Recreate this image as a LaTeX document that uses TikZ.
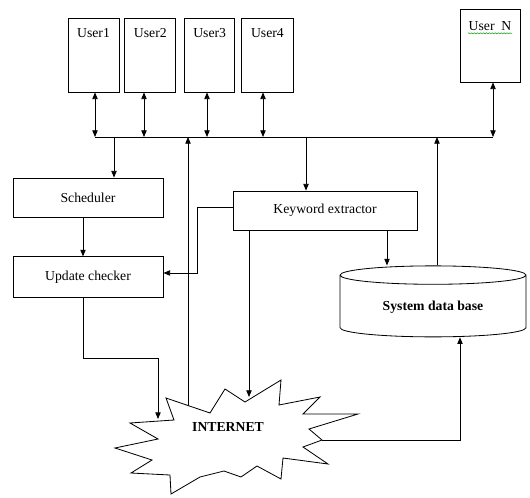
\documentclass[tikz,border=0pt]{standalone}
\usepackage{fontspec}
\setmainfont{Liberation Serif}
\usetikzlibrary{positioning,arrows.meta,calc,shapes.geometric,decorations.pathmorphing}

\begin{document}
\begin{tikzpicture}[
    x=0.03cm, y=-0.03cm,
    font=\fontsize{11.7}{14}\selectfont,
    wire/.style={line width=0.7pt},
    box/.style={draw, wire, minimum width=4.5cm, minimum height=1.17cm, inner sep=0pt},
    user/.style={draw, wire, minimum width=1.53cm, inner sep=0pt, text height=0.57cm, text depth=1.65cm},
    edge/.style={-{Triangle[length=2mm,width=1.6mm]}, wire},
    dbl/.style={{Triangle[length=2mm,width=1.6mm]}-{Triangle[length=2mm,width=1.6mm]}, wire}
]
\useasboundingbox (0,0) rectangle (530,497);

\node[user] (u1) at (93.5,55) {User1};
\node[user, right=0.15cm of u1] (u2) {User2};
\node[user, right=0.24cm of u2, minimum width=1.5cm] (u3) {User3};
\node[user, right=0.18cm of u3, minimum width=1.56cm] (u4) {User4};
\node[user, minimum width=1.8cm, text height=0.63cm, text depth=1.56cm] (un) at (490,45.5) {User~ N};
\draw[green!60!black, decorate, decoration={snake, amplitude=0.5pt, segment length=2.5pt}]
    ([xshift=-0.66cm,yshift=-0.1cm]un.base) -- ([xshift=0.66cm,yshift=-0.1cm]un.base);

\node[box] (sched) at (88,197.5) {Scheduler};
\node[box, below=1.17cm of sched, minimum height=1.23cm] (upd) {Update checker};
\node[box, minimum width=5.52cm] (kw) at (325,210.5) {Keyword extractor};
\node[cylinder, shape border rotate=90, draw, wire, aspect=0.17, minimum width=5.58cm, minimum height=2.13cm, font=\fontsize{11.7}{14}\selectfont\bfseries] (db) at (433,307.5) {System data base};

\draw[wire, fill=white] (166,398) -- (210,413) -- (225,389) -- (245,402) -- (281,380) -- (279,405)
    -- (320,397) -- (303,414) -- (358,414) -- (309,429) -- (322,440) -- (303,447) -- (328,464)
    -- (283,458) -- (281,479) -- (257,466) -- (241,477) -- (224,471) -- (200,477) -- (171,494)
    -- (170,475) -- (131,473) -- (152,460) -- (115,448) -- (158,439) -- (130,423) -- (174,420) -- cycle;
\node[font=\fontsize{11.7}{14}\selectfont\bfseries] (net) at (228,427) {INTERNET};

\coordinate (bl) at (95,137);
\coordinate (bn) at (493,137);
\coordinate (b2) at (144,137);
\coordinate (b3) at (207,137);
\coordinate (b4) at (263,137);
\coordinate (bs) at (114,137);
\coordinate (bk) at (306,137);
\coordinate (bd) at (437,137);
\coordinate (kd) at (387,230);
\coordinate (n1) at (158,419);
\coordinate (n2) at (249,397);
\coordinate (n3) at (188,405);
\coordinate (n4) at (322,440);

\draw[wire] (bl) -- (bn);
\foreach \u/\b in {u1/bl,u2/b2,u3/b3,u4/b4,un/bn}
    \draw[dbl] (\b |- \u.south) -- (\b);

\draw[edge] (bs) -- (bs |- sched.north);
\draw[edge] ([xshift=-0.15cm]sched.south) -- ([xshift=-0.15cm]upd.north);
\draw[edge] ([xshift=-0.15cm]upd.south) -- ++(0,60) -| (n1);
\draw[edge] (bk) -- (bk |- kw.north);
\draw[edge] ([yshift=0.08cm]kw.west) -- ++(-35,0) |- ([yshift=0.13cm]upd.east);
\draw[edge] (kw.south -| n2) -- (n2);
\draw[edge] (kd) -- (kd |- db.north);
\draw[edge] (n3) -- (n3 |- bl);
\draw[edge] (bd |- db.north) -- (bd);
\draw[edge] (n4) -| ([xshift=0.81cm]db.south);
\end{tikzpicture}
\end{document}
